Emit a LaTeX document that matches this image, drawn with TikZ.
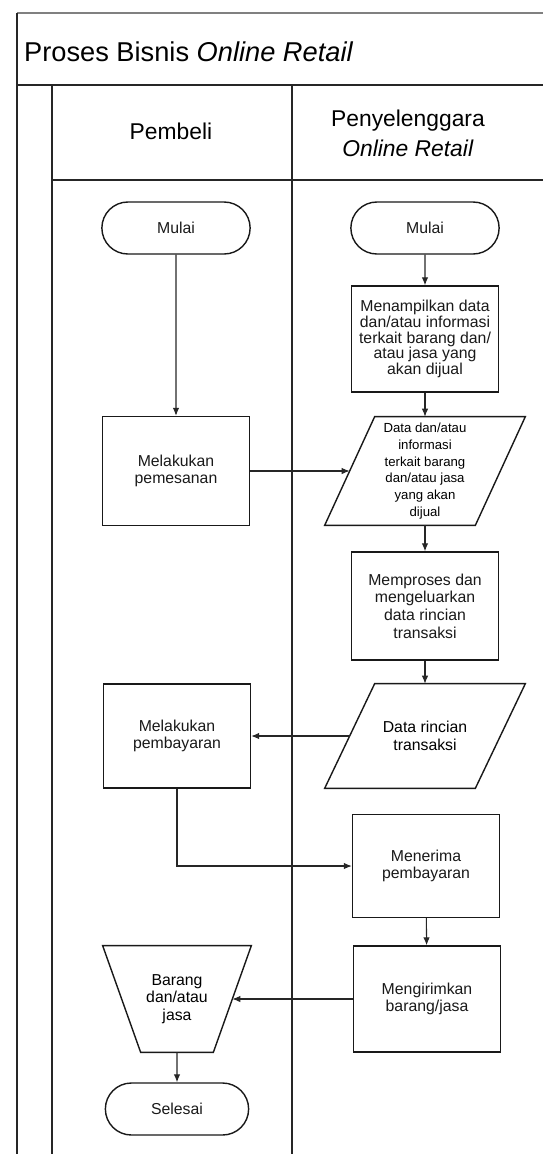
\documentclass[tikz,border=0pt]{standalone}
\usepackage{fontspec}
\setmainfont{Liberation Sans}
\usetikzlibrary{arrows.meta, shapes.misc}

% Jajar genjang (data) dan trapesium (manual) di sekitar node
\newcommand{\jajar}[2]{%
  \draw[bentuk] ([xshift=#2]#1.north west) -- ([xshift=#2]#1.north east)
    -- ([xshift=-#2]#1.south east) -- ([xshift=-#2]#1.south west) -- cycle;}
\newcommand{\trapes}[2]{%
  \draw[bentuk] ([xshift=-#2]#1.north west) -- ([xshift=#2]#1.north east)
    -- ([xshift=-#2]#1.south east) -- ([xshift=#2]#1.south west) -- cycle;}

\begin{document}
\begin{tikzpicture}[
    x=0.02cm, y=-0.02cm,
    garis/.style={line width=1pt, black!85},
    bentuk/.style={line width=0.8pt, black!90},
    terminal/.style={rounded rectangle, draw, bentuk, minimum width=3.2cm,
        minimum height=1.04cm, font=\fontsize{9}{10}\selectfont},
    proses/.style={rectangle, draw, bentuk, minimum width=2.94cm,
        minimum height=2.14cm, align=center, font=\fontsize{9}{10}\selectfont},
    data/.style={rectangle, minimum width=3cm, minimum height=2.14cm,
        align=center, font=\fontsize{9}{10}\selectfont},
    alur/.style={-{Latex[length=1.6mm, width=1.3mm]}, line width=0.6pt, black!85}
]
\useasboundingbox (0,0) rectangle (543,1154);

% Bingkai dan jalur
\draw[garis, black!50] (17,13) -- (543,13);
\draw[garis] (17,13) -- (17,1154);
\draw[garis] (17,85) -- (543,85);
\draw[garis] (52,85) -- (52,1154);
\draw[garis] (292,85) -- (292,1154);
\draw[garis] (52,180) -- (543,180);

% Judul dan kepala jalur
\node[anchor=west, font=\fontsize{15.5}{18}\selectfont] (judul) at (18,52)
    {Proses Bisnis \textit{Online Retail}};
\node[font=\fontsize{13}{17}\selectfont] (pembeli) at (171,131) {Pembeli};
\node[font=\fontsize{13}{17}\selectfont, align=center] (penyelenggara) at (408,133)
    {Penyelenggara\\\textit{Online Retail}};

% Jalur pembeli
\node[terminal] (mulai1) at (176,228) {Mulai};
\node[proses, minimum height=2.18cm] (pesan) at (176,471) {Melakukan\\pemesanan};
\node[proses, minimum height=2.08cm] (bayar) at (177,736) {Melakukan\\pembayaran};
\node[data, minimum width=2.2cm, minimum height=2.12cm] (barang) at (177,999)
    {Barang\\dan/atau\\jasa};
\trapes{barang}{0.38cm}
\node[terminal, minimum width=3.1cm] (selesai) at (177,1109) {Selesai};

% Jalur penyelenggara
\node[terminal] (mulai2) at (425,228) {Mulai};
\node[proses, minimum height=2.12cm, font=\fontsize{9}{9}\selectfont] (tampil) at (425,339)
    {Menampilkan data\\dan/atau informasi\\terkait barang dan/\\atau jasa yang\\akan dijual};
\node[data, minimum height=2.16cm, font=\fontsize{7.5}{9.5}\selectfont] (info) at (425,471)
    {Data dan/atau\\informasi\\terkait barang\\dan/atau jasa\\yang akan\\dijual};
\jajar{info}{0.5cm}
\node[proses, minimum height=2.16cm] (olah) at (425,606)
    {Memproses dan\\mengeluarkan\\data rincian\\transaksi};
\node[data, minimum height=2.08cm] (rincian) at (425,736) {Data rincian\\transaksi};
\jajar{rincian}{0.5cm}
\node[proses, minimum height=2.06cm] (terima) at (426,866) {Menerima\\pembayaran};
\node[proses, minimum height=2.12cm] (kirim) at (427,999) {Mengirimkan\\barang/jasa};

% Alur
\draw[alur] (mulai1) -- (pesan);
\draw[alur] (mulai2) -- (tampil);
\draw[alur] (tampil) -- (info);
\draw[alur] (pesan) -- (info);
\draw[alur] (info) -- (olah);
\draw[alur] (olah) -- (rincian);
\draw[alur] (rincian) -- (bayar);
\draw[alur] (bayar.south) |- (terima.west);
\draw[alur] (terima) -- (kirim);
\draw[alur] (kirim) -- (barang);
\draw[alur] (barang) -- (selesai);

\end{tikzpicture}
\end{document}
